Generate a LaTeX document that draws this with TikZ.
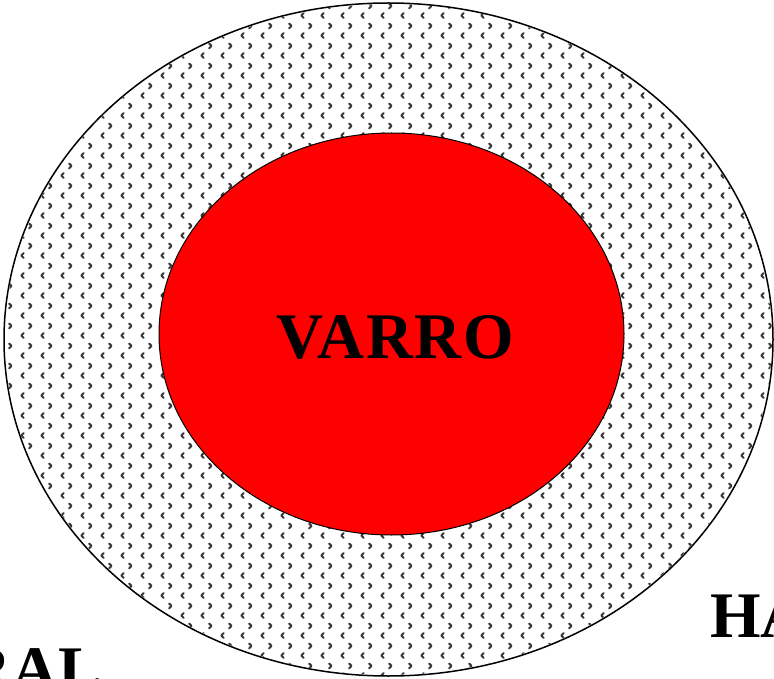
\documentclass[tikz,border=0pt]{standalone}
\usepackage{fontspec}
\setmainfont{Liberation Serif}
\usetikzlibrary{shapes.geometric,patterns.meta}
\tikzdeclarepattern{
  name=chevrons,
  type=colored,
  bounding box={(0pt,0pt) and (20pt,20pt)},
  tile size={(20pt,20pt)},
  code={
    \draw[black!78, line width=2.1pt, line cap=round, line join=round]
      (3.8pt,1.2pt) -- (1.3pt,3.7pt) -- (3.8pt,6.2pt);
    \draw[black!78, line width=2.1pt, line cap=round, line join=round]
      (9.6pt,11.2pt) -- (12.1pt,13.7pt) -- (9.6pt,16.2pt);
  }
}
\tikzset{
  bigtext/.style={font=\fontsize{65}{78}\selectfont\bfseries, inner sep=0pt, text=black},
  ring/.style={ellipse, draw=black, line width=1.5pt, fill=white, inner sep=0pt},
  core/.style={ellipse, draw=black, line width=1pt, fill={rgb,255:red,255;green,0;blue,0}, inner sep=0pt}
}
\begin{document}
\begin{tikzpicture}[x=1pt,y=-1pt]
\useasboundingbox (0,0) rectangle (774,679);
\clip (0,0) rectangle (774,679);
\fill[white] (0,0) rectangle (774,679);
\node[ring, minimum width=769pt, minimum height=673pt] (outer) at (388.5,339.5) {};
\fill[pattern=chevrons] (outer.center) ellipse [x radius=383.4pt, y radius=335.4pt];
\node[core, minimum width=465pt, minimum height=402pt] (inner) at (391.5,334) {};
\node[bigtext, anchor=base] (varro) at (395.5,358) {\addfontfeature{LetterSpace=3}VARRO};
\node[bigtext, anchor=base west] (ha) at (710,637) {HA};
\node[bigtext, anchor=base west] (ral) at (-36,691) {RAL};
\end{tikzpicture}
\end{document}
